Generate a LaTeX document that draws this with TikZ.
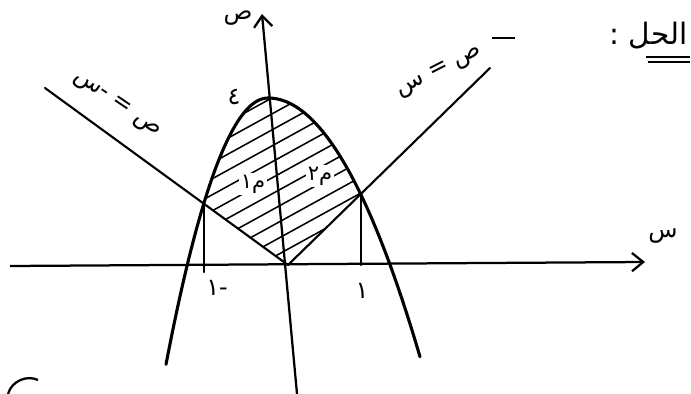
\documentclass[tikz,border=0pt]{standalone}
\usepackage{fontspec}
\newfontfamily\arabicfont[Script=Arabic]{DejaVu Sans}
\TeXXeTstate=1
\usetikzlibrary{arrows.meta, calc}

\begin{document}
\begin{tikzpicture}[
    x=0.025cm, y=-0.025cm,
    >={Straight Barb[length=8pt, width=13pt, line width=1.6pt]},
    axis/.style={->, line width=1.6pt, black},
    curve/.style={line width=2.2pt, black, line cap=round},
    ray/.style={line width=1.5pt, black, line cap=round},
    hatch/.style={line width=1.1pt, black},
    lbl/.style={font=\arabicfont\fontsize{17}{20}\selectfont, inner sep=1pt},
    area/.style={font=\arabicfont\fontsize{15}{18}\selectfont, fill=white, inner sep=1pt}
]
\useasboundingbox (0,0) rectangle (691,394);

% POINTS
\coordinate (O) at (288,265);
\coordinate (A) at (204,203);
\coordinate (B) at (361,195);
\coordinate (L) at (45,88);
\coordinate (R) at (490,68);
\coordinate (xl) at (10,266);
\coordinate (xr) at (645,262);
\coordinate (ybot) at (297,394);
\coordinate (ytop) at (262,14);

% HATCHED AREA
\begin{scope}
    \clip (O) -- (A) -- plot[domain=204:268, samples=30] (\x, {98+0.0256*(\x-268)*(\x-268)})
        -- plot[domain=268:361, samples=30] (\x, {98+0.0112*(\x-268)*(\x-268)}) -- (B) -- cycle;
    \foreach \c in {165,181,...,345}
        \draw[hatch] (150,\c) -- (400,\c-137.5);
\end{scope}

% AXES
\draw[axis] (xl) -- (xr);
\draw[axis] (ybot) -- (ytop);

% LINES
\draw[ray] (O) -- (L);
\draw[ray] (O) -- (R);
\draw[ray] (A) -- ($(A)+(0,69)$);
\draw[ray] (B) -- ($(B)+(0,70)$);

% PARABOLA
\draw[curve] plot[domain=166:268, samples=50] (\x, {98+0.0256*(\x-268)*(\x-268)})
    -- plot[domain=268:420, samples=60] (\x, {98+0.0112*(\x-268)*(\x-268)});

% LABELS
\node[lbl] (ylab) at (238,18) {\beginR ص\endR};
\node[lbl] (xlab) at (663,236) {\beginR س\endR};
\node[lbl, rotate=-34] (leftlab) at (117,105) {\beginR ص = -س\endR};
\node[lbl, rotate=27] (rightlab) at (440,72) {\beginR ص = س\endR};
\node[lbl] (top) at (234,97) {\beginR ٤\endR};
\node[lbl] (mone) at (217,288) {\beginR -١\endR};
\node[lbl] (one) at (362,291) {\beginR ١\endR};
\node[area] (aone) at (253,184) {\beginR م١\endR};
\node[area] (atwo) at (320,176) {\beginR م٢\endR};

% HEADING
\node[lbl, font=\arabicfont\fontsize{21}{24}\selectfont, anchor=east] (sol) at (689,36) {\beginR الحل :\endR};
\coordinate (u1) at (646,57);
\coordinate (u2) at (690,57);
\draw[line width=1.6pt] (u1) -- (u2);
\draw[line width=1.2pt] ($(u1)+(2,5)$) -- ($(u2)+(0,5)$);

% STRAY MARKS
\coordinate (s1) at (492,38);
\coordinate (s2) at (515,38);
\draw[line width=1.4pt] (s1) -- (s2);
\draw[line width=1.6pt] (8,394) .. controls (12,380) and (28,375) .. (38,380);

\end{tikzpicture}
\end{document}
